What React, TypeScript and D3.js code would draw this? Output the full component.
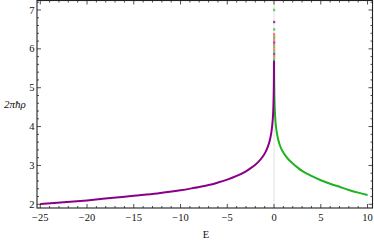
import React from "react";
import * as d3 from "d3";

const purpleE = [-25, -22.5, -20, -17.5, -15, -12.5, -10, -8.5, -7, -6, -5, -4, -3, -2.5, -2, -1.6, -1.2, -0.9, -0.65, -0.45, -0.3, -0.2, -0.12, -0.07, -0.035, -0.012, -0.004];
const purpleV = [2.01, 2.05, 2.1, 2.16, 2.22, 2.28, 2.36, 2.425, 2.495, 2.56, 2.635, 2.73, 2.85, 2.93, 3.02, 3.11, 3.23, 3.35, 3.49, 3.65, 3.83, 4.02, 4.24, 4.5, 4.85, 5.3, 5.7];
const greenE = [0.004, 0.012, 0.035, 0.07, 0.12, 0.2, 0.3, 0.45, 0.65, 0.9, 1.2, 1.6, 2, 2.5, 3, 4, 5, 6, 7, 8, 9, 10];
const greenV = [5.7, 5.3, 4.85, 4.5, 4.25, 4.02, 3.84, 3.66, 3.5, 3.37, 3.26, 3.14, 3.05, 2.95, 2.86, 2.73, 2.62, 2.53, 2.45, 2.37, 2.3, 2.24];
const spikeV = [7.0, 6.69, 6.5, 6.38, 6.33, 6.28, 6.22, 6.16, 6.1, 6.04, 5.98, 5.92, 5.86, 5.8, 5.74];
const spikeS = ["g", "p", "g", "r", "r", "g", "r", "p", "r", "g", "r", "g", "p", "r", "g"];
const xTicks = [-25, -20, -15, -10, -5, 0, 5, 10];
const yTicks = [2, 3, 4, 5, 6, 7];

const W = 374, H = 242;
const L = 37, R = 372.5, T = 0.5, B = 208;
const GREEN = "#1fb31f", PURPLE = "#880088";
const spikeColor: Record<string, string> = { g: "#5fd05f", p: "#a040a0", r: "#ff7a7a" };

export default function App() {
  const x = d3.scaleLinear().domain([-25.35, 10.53]).range([L, R]);
  const y = d3.scaleLinear().domain([1.905, 7.244]).range([B, T]);
  const line = d3.line<[number, number]>().x(d => x(d[0])).y(d => y(d[1])).curve(d3.curveCatmullRom.alpha(0.5));
  const pData = purpleE.map((e, i) => [e, purpleV[i]] as [number, number]);
  const gData = greenE.map((e, i) => [e, greenV[i]] as [number, number]);
  const xMinor = d3.range(-25, 11, 1);
  const yMinor = d3.range(2, 7.21, 0.2);
  const fmt = (v: number) => (v < 0 ? "\u2212" + Math.abs(v) : String(v));
  const font = "'Liberation Serif', 'Times New Roman', serif";
  const tc = "#222";
  return (
    <svg width={W} height={H} style={{ position: "absolute", left: 0, top: 0, background: "#fff" }}>
      <line x1={x(0)} x2={x(0)} y1={T} y2={B} stroke="#e2e2e2" strokeWidth={1} />
      <path d={line(gData) || ""} fill="none" stroke={GREEN} strokeWidth={2} strokeLinejoin="round" />
      <path d={line(pData) || ""} fill="none" stroke={PURPLE} strokeWidth={2} strokeLinejoin="round" />
      {spikeV.map((v, i) => (
        <rect key={i} x={x(0) - 1} y={y(v) - 1.2} width={2.2} height={2.4} fill={spikeColor[spikeS[i]]} />
      ))}
      <rect x={L} y={T} width={R - L} height={B - T} fill="none" stroke={tc} strokeWidth={1.1} />
      {xMinor.map(v => {
        const major = v % 5 === 0;
        const len = major ? 4 : 2;
        return (
          <g key={"xm" + v}>
            <line x1={x(v)} x2={x(v)} y1={B} y2={B - len} stroke={tc} strokeWidth={0.8} />
            <line x1={x(v)} x2={x(v)} y1={T} y2={T + len} stroke={tc} strokeWidth={0.8} />
          </g>
        );
      })}
      {yMinor.map((v, i) => {
        const major = i % 5 === 0;
        const len = major ? 4 : 2;
        return (
          <g key={"ym" + i}>
            <line x1={L} x2={L + len} y1={y(v)} y2={y(v)} stroke={tc} strokeWidth={0.8} />
            <line x1={R} x2={R - len} y1={y(v)} y2={y(v)} stroke={tc} strokeWidth={0.8} />
          </g>
        );
      })}
      {xTicks.map(v => (
        <text key={"xt" + v} x={x(v)} y={220.5} textAnchor="middle" fontFamily={font} fontSize={10.5} fill="#111">
          {fmt(v)}
        </text>
      ))}
      {yTicks.map(v => (
        <text key={"yt" + v} x={34.5} y={y(v) + 3.6} textAnchor="end" fontFamily={font} fontSize={10.5} fill="#111">
          {v}
        </text>
      ))}
      <text x={15} y={108} textAnchor="middle" fontFamily={font} fontStyle="italic" fontSize={11} fill="#111">
        2πħρ
      </text>
      <text x={206} y={238} textAnchor="middle" fontFamily={font} fontSize={10.5} fill="#111">
        E
      </text>
    </svg>
  );
}
